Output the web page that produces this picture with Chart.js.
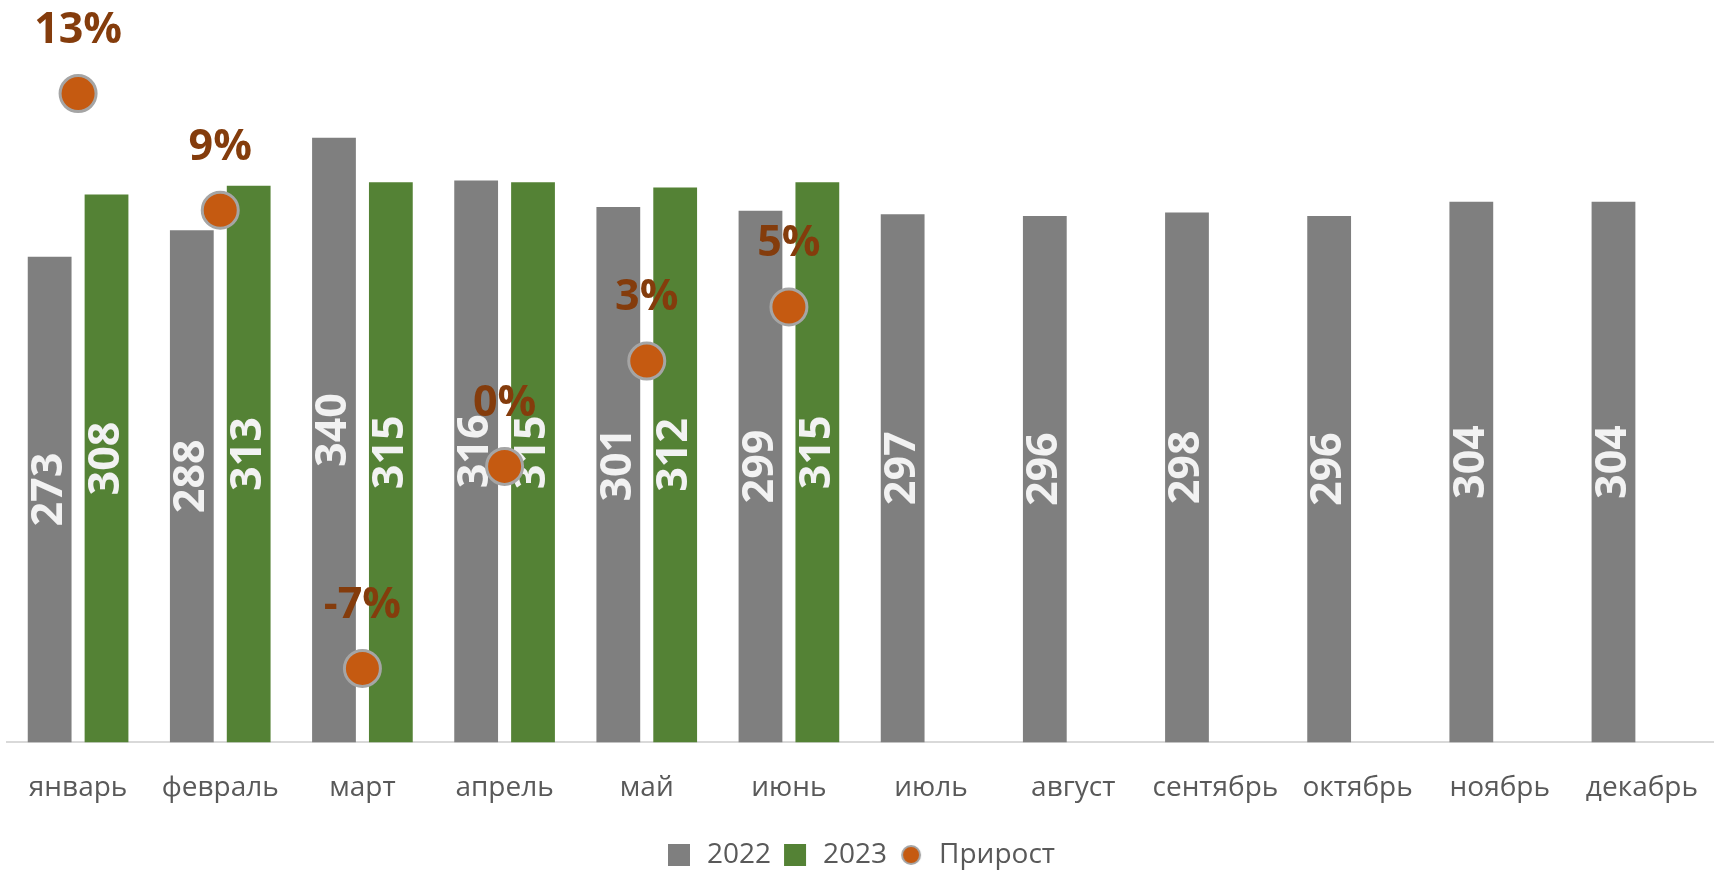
<!DOCTYPE html>
<html>
<head>
<meta charset="utf-8">
<script src="https://cdn.jsdelivr.net/npm/chart.js@4"></script>
<style>
  html, body { margin: 0; padding: 0; background: #ffffff; }
  #wrap { width: 1716px; height: 879px; }
</style>
</head>
<body>
<div id="wrap"><canvas id="graphic" width="1716" height="879"></canvas></div>
<script>
const months = ['январь', 'февраль', 'март', 'апрель', 'май', 'июнь', 'июль', 'август', 'сентябрь', 'октябрь', 'ноябрь', 'декабрь'];
const vals2022 = [273, 288, 340, 316, 301, 299, 297, 296, 298, 296, 304, 304];
const vals2023 = [308, 313, 315, 315, 312, 315, null, null, null, null, null, null];
const growth = [12.8, 8.7, -7.4, -0.3, 3.4, 5.3];

const FONT = "'Open Sans', 'DejaVu Sans', sans-serif";

// маленький кружок для легенды "Прирост"
const dot = document.createElement('canvas');
dot.width = 24; dot.height = 24;
const g = dot.getContext('2d');
g.beginPath();
g.arc(12, 12, 9, 0, Math.PI * 2);
g.fillStyle = '#C55A11';
g.fill();
g.lineWidth = 2;
g.strokeStyle = '#A5A5A5';
g.stroke();

const labelsPlugin = {
    id: 'valueLabels',
    afterDatasetDraw(chart, args) {
        const ctx = chart.ctx;
        const meta = args.meta;
        const ds = chart.data.datasets[args.index];
        ctx.save();
        if (meta.type === 'bar') {
            ctx.font = "bold 43px " + FONT;
            ctx.fillStyle = '#F2F2F2';
            ctx.textAlign = 'center';
            ctx.textBaseline = 'middle';
            meta.data.forEach((bar, i) => {
                if (ds.data[i] == null) return;
                const cy = (bar.y + bar.base) / 2 - 10;
                ctx.save();
                ctx.translate(bar.x, cy);
                ctx.rotate(-Math.PI / 2);
                ctx.fillText(String(ds.data[i]), 0, 0);
                ctx.restore();
            });
        } else {
            ctx.font = "bold 43px " + FONT;
            ctx.fillStyle = '#843C0C';
            ctx.textAlign = 'center';
            ctx.textBaseline = 'middle';
            meta.data.forEach((pt, i) => {
                if (ds.data[i] == null) return;
                ctx.fillText(Math.round(ds.data[i]) + '%', pt.x, pt.y - 63);
            });
        }
        ctx.restore();
    }
};

const ctx = document.getElementById('graphic');

new Chart(ctx, {
    type: 'bar',
    data: {
        labels: months,
        datasets: [{
            label: '2022',
            data: vals2022,
            backgroundColor: '#7F7F7F',
            borderWidth: 0,
            pointStyle: 'rect',
            categoryPercentage: 0.8,
            barPercentage: 0.77,
            order: 1
        }, {
            label: '2023',
            data: vals2023,
            backgroundColor: '#548235',
            borderWidth: 0,
            pointStyle: 'rect',
            categoryPercentage: 0.8,
            barPercentage: 0.77,
            order: 1
        }, {
            type: 'line',
            label: 'Прирост',
            data: growth,
            yAxisID: 'y1',
            showLine: false,
            pointRadius: 18,
            pointHoverRadius: 18,
            pointBackgroundColor: '#C55A11',
            pointBorderColor: '#A5A5A5',
            pointBorderWidth: 3,
            backgroundColor: '#C55A11',
            borderColor: '#A5A5A5',
            order: 0
        }]
    },
    options: {
        responsive: false,
        animation: false,
        layout: {
            autoPadding: false,
            padding: { left: 7, right: 3, top: 31, bottom: 0 }
        },
        scales: {
            x: {
                grid: {
                    display: true,
                    drawOnChartArea: false,
                    drawTicks: true,
                    tickLength: 27,
                    color: 'rgba(0,0,0,0)'
                },
                border: { display: true, color: '#D9D9D9', width: 2 },
                ticks: {
                    color: '#595959',
                    padding: 2,
                    maxRotation: 0,
                    autoSkip: false,
                    font: { family: FONT, size: 28 }
                },
                title: { display: true, text: '', padding: 0, font: { size: 20 } }
            },
            y: {
                display: false,
                min: 0,
                max: 400
            },
            y1: {
                display: false,
                min: -10,
                max: 15
            }
        },
        plugins: {
            legend: {
                position: 'bottom',
                labels: {
                    usePointStyle: true,
                    boxHeight: 22,
                    padding: 10,
                    color: '#595959',
                    font: { family: FONT, size: 28 },
                    sort: (a, b) => a.datasetIndex - b.datasetIndex,
                    generateLabels: (chart) => {
                        const items = Chart.defaults.plugins.legend.labels.generateLabels(chart);
                        items.forEach(it => {
                            if (it.datasetIndex === 2) it.pointStyle = dot;
                        });
                        return items;
                    }
                }
            },
            tooltip: { enabled: false }
        }
    },
    plugins: [labelsPlugin]
});
</script>
</body>
</html>
